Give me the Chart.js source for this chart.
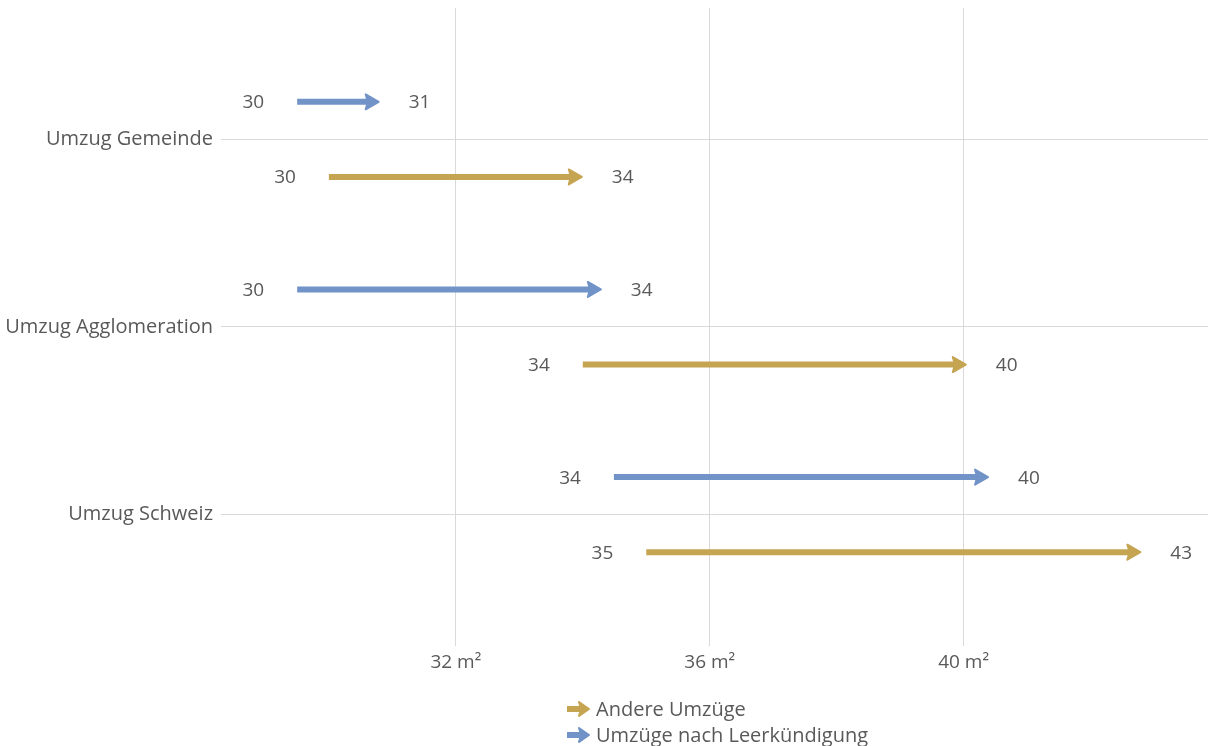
<!DOCTYPE html>
<html>
<head>
<meta charset="utf-8">
<title>Wohnfläche pro Person vor und nach dem Umzug</title>
<script src="https://cdn.jsdelivr.net/npm/chart.js@4/dist/chart.umd.min.js"></script>
<style>
  html, body { margin: 0; padding: 0; background: #ffffff; }
  #c { display: block; }
</style>
</head>
<body>
<canvas id="c" width="1208" height="746"></canvas>
<script>
// Wohnfläche pro Person (m²) vor und nach dem Umzug
const categories = ['Umzug Gemeinde', 'Umzug Agglomeration', 'Umzug Schweiz'];
const leerStart = [29.5, 29.5, 34.49];   // Umzüge nach Leerkündigung: vorher
const leerEnd = [30.8, 34.3, 40.4];      // Umzüge nach Leerkündigung: nachher
const andereStart = [30.0, 34.0, 35.0];  // Andere Umzüge: vorher
const andereEnd = [34.0, 40.05, 42.8];   // Andere Umzüge: nachher
const xTickValues = [32, 36, 40];
const seriesNames = ['Umzüge nach Leerkündigung', 'Andere Umzüge'];
const legendOrder = [1, 0];

const BLUE = '#7193c8';
const GOLD = '#c5a452';
const TEXT = '#595959';
const GRID = '#d9d9d9';
const FONT = "'Open Sans', 'DejaVu Sans', sans-serif";

function toPoints(starts, ends) {
  return categories.map((_, i) => ({ y: i, x: [starts[i], ends[i]] }));
}

// line with a filled, slightly rounded arrow head whose tip sits at x1
function drawArrow(ctx, x0, x1, y, color, lw, headLen, headHalf) {
  ctx.save();
  ctx.fillStyle = color;
  ctx.strokeStyle = color;
  ctx.lineWidth = lw;
  ctx.lineCap = 'butt';
  ctx.beginPath();
  ctx.moveTo(x0, y);
  ctx.lineTo(x1 - headLen + 2, y);
  ctx.stroke();
  ctx.lineWidth = 2;
  ctx.lineJoin = 'round';
  ctx.beginPath();
  ctx.moveTo(x1 - headLen, y - headHalf);
  ctx.lineTo(x1 - 1, y);
  ctx.lineTo(x1 - headLen, y + headHalf);
  ctx.quadraticCurveTo(x1 - headLen + 3, y, x1 - headLen, y - headHalf);
  ctx.closePath();
  ctx.fill();
  ctx.stroke();
  ctx.restore();
}

const arrowPlugin = {
  id: 'arrows',
  beforeDatasetDraw() {
    return false;
  },
  afterDatasetsDraw(chart) {
    const ctx = chart.ctx;
    chart.data.datasets.forEach((ds, di) => {
      const meta = chart.getDatasetMeta(di);
      if (meta.hidden) return;
      meta.data.forEach((bar, i) => {
        const p = bar.getProps(['x', 'y', 'base'], true);
        drawArrow(ctx, p.base, p.x, p.y, ds.backgroundColor, 6, 14, 7.5);
        const range = ds.data[i].x;
        ctx.save();
        ctx.font = '19px ' + FONT;
        ctx.fillStyle = TEXT;
        ctx.textBaseline = 'middle';
        ctx.textAlign = 'right';
        ctx.fillText(String(Math.round(range[0])), p.base - 33, p.y + 1);
        ctx.textAlign = 'left';
        ctx.fillText(String(Math.round(range[1])), p.x + 29, p.y + 1);
        ctx.restore();
      });
    });
  }
};

const legendPlugin = {
  id: 'arrowLegend',
  afterDraw(chart) {
    const ctx = chart.ctx;
    const area = chart.chartArea;
    ctx.save();
    ctx.font = '20px ' + FONT;
    const items = legendOrder.map(i => ({
      text: chart.data.datasets[i].label,
      color: chart.data.datasets[i].backgroundColor
    }));
    const iconW = 29;
    const maxW = Math.max(...items.map(it => ctx.measureText(it.text).width)) + iconW;
    const left = Math.round((area.left + area.right) / 2 - maxW / 2) + 3;
    items.forEach((it, k) => {
      const y = 709 + k * 26;
      drawArrow(ctx, left, left + 23, y, it.color, 6, 11, 7);
      ctx.fillStyle = TEXT;
      ctx.textAlign = 'left';
      ctx.textBaseline = 'middle';
      ctx.fillText(it.text, left + iconW, y + 1);
    });
    ctx.restore();
  }
};

Chart.defaults.font.family = FONT;
Chart.defaults.font.size = 19;
Chart.defaults.color = TEXT;

new Chart(document.getElementById('c'), {
  type: 'bar',
  data: {
    datasets: [
      { label: seriesNames[0], data: toPoints(leerStart, leerEnd), backgroundColor: BLUE, maxBarThickness: 6 },
      { label: seriesNames[1], data: toPoints(andereStart, andereEnd), backgroundColor: GOLD, maxBarThickness: 6 }
    ]
  },
  options: {
    indexAxis: 'y',
    responsive: false,
    animation: false,
    layout: { padding: { top: 8, left: 0, right: 0, bottom: 60 } },
    plugins: {
      legend: { display: false },
      tooltip: { enabled: false }
    },
    scales: {
      x: {
        type: 'linear',
        min: 28.3,
        max: 43.85,
        afterBuildTicks(scale) {
          scale.ticks = xTickValues.map(v => ({ value: v }));
        },
        afterFit(scale) {
          scale.height = 40;
          scale.paddingLeft = 0;
          scale.paddingRight = 0;
        },
        ticks: {
          padding: 5,
          color: TEXT,
          font: { size: 19 },
          callback: v => v + ' m²'
        },
        grid: { color: GRID, lineWidth: 1, drawTicks: false },
        border: { display: false }
      },
      y: {
        type: 'linear',
        reverse: true,
        min: -0.7,
        max: 2.7,
        offset: false,
        afterBuildTicks(scale) {
          scale.ticks = categories.map((_, i) => ({ value: i }));
        },
        afterFit(scale) {
          scale.width = 221;
          scale.paddingTop = 0;
          scale.paddingBottom = 0;
        },
        ticks: {
          padding: 8,
          color: TEXT,
          font: { size: 20 },
          callback: v => categories[v]
        },
        grid: { color: GRID, lineWidth: 1, drawTicks: false, offset: false },
        border: { display: false }
      }
    }
  },
  plugins: [arrowPlugin, legendPlugin]
});
</script>
</body>
</html>
